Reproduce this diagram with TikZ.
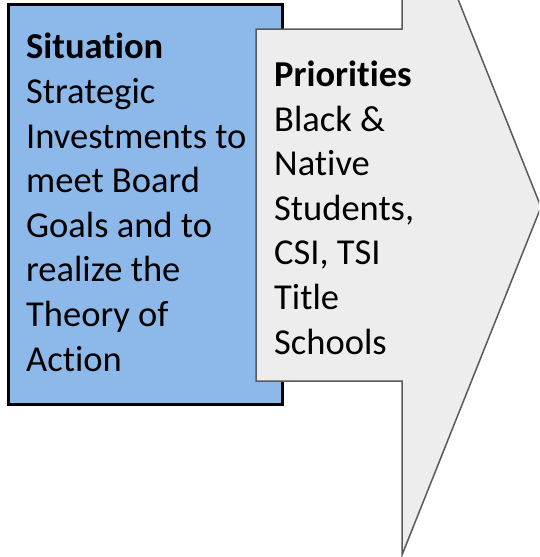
\documentclass[tikz,border=0pt]{standalone}
\usepackage{fontspec}
\setmainfont{Carlito}[RawFeature=-liga]
\definecolor{boxblue}{HTML}{8DB9EA}
\definecolor{arrowgray}{HTML}{EDEDED}
\definecolor{edgegray}{HTML}{595959}
\begin{document}
\begin{tikzpicture}[x=1pt,y=-1pt,
    boxtext/.style={anchor=base west, inner sep=0pt, align=left,
        font=\fontsize{36.5}{44.6}\selectfont}]
    \clip (0,0) rectangle (539,557);
    \draw[line width=3pt, fill=boxblue] (8,4) rectangle (282,404);
    \draw[line width=1.5pt, draw=edgegray, fill=arrowgray]
        (256,29) -- (402,29) -- (402,-141) -- (541,207) -- (402,555)
        -- (402,381) -- (256,381) -- cycle;
    % base anchor sits on the last line
    \node[boxtext] (situation) at (26,371) {\textbf{Situation}\\Strategic\\Investments to\\meet Board\\Goals and to\\realize the\\Theory of\\Action};
    \node[boxtext] (priorities) at (274,354) {\textbf{Priorities}\\Black \&\\Native\\Students,\\CSI, TSI\\Title\\Schools};
\end{tikzpicture}
\end{document}
